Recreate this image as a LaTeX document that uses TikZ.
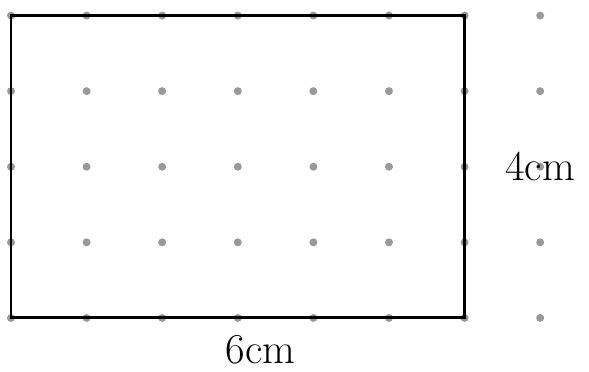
\documentclass[tikz,border=0pt]{standalone}
\usepackage{xcolor}
\usepackage{tikz}
\usetikzlibrary{positioning,calc}

\begin{document}
\begin{tikzpicture}[font=\fontsize{16}{19}\selectfont,
    griddot/.style={fill=black!40},
    side/.style={line width=1.1pt, black}]
  \useasboundingbox (-0.1455,-0.714) rectangle (7.646,4.206);
  % dot grid
  \foreach \x in {0,...,7}
    \foreach \y in {0,...,4}
      \fill[griddot] (\x,\y) circle (1.5pt);
  % the rectangle
  \coordinate (bl) at (0,0);
  \coordinate (tr) at (6,4);
  \draw[side] (bl) rectangle (tr);
  \node (width) at (3.3,-0.42) {6cm};
  \node (height) at (7.0,2.0) {4cm};
\end{tikzpicture}
\end{document}
